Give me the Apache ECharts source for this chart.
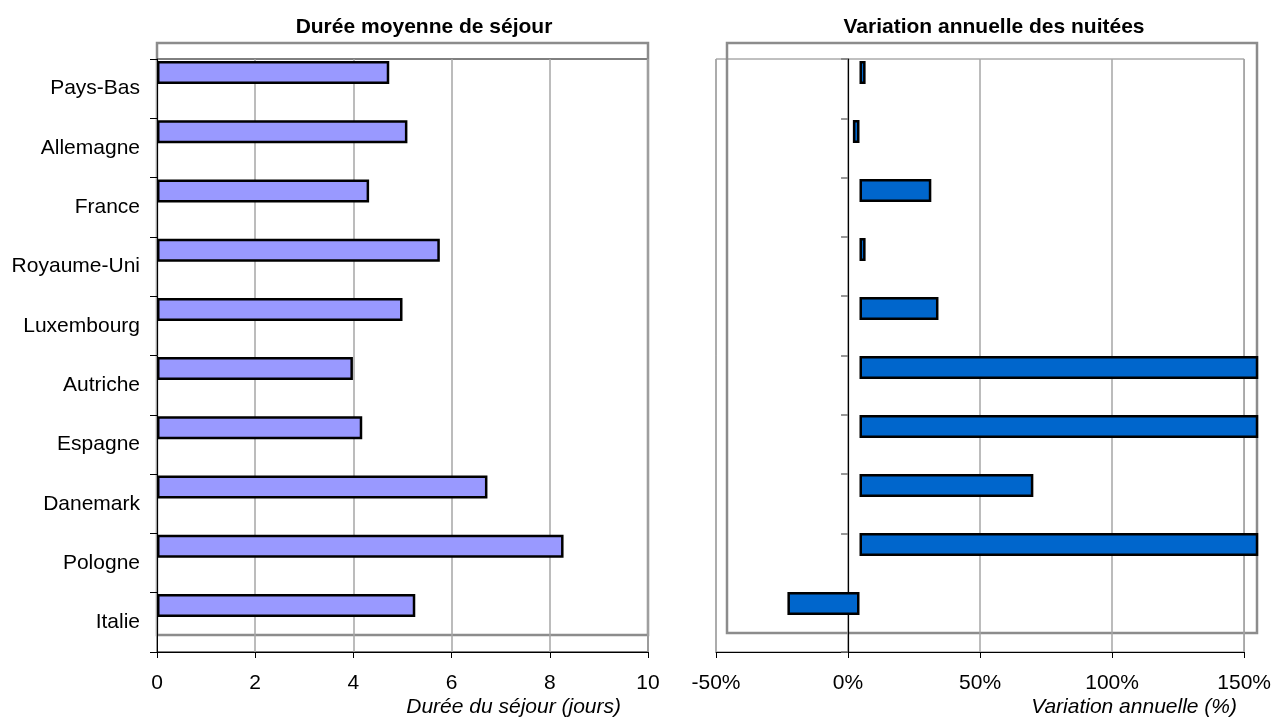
<!DOCTYPE html>
<html>
<head>
<meta charset="utf-8">
<title>Durée de séjour et variation des nuitées</title>
<script src="https://cdn.jsdelivr.net/npm/echarts@6/dist/echarts.min.js"></script>
<style>
  html, body { margin: 0; padding: 0; background: #fff; }
  #chart { width: 1274px; height: 723px; }
</style>
</head>
<body>
<div id="chart"></div>
<script>
// données
var pays = ['Pays-Bas', 'Allemagne', 'France', 'Royaume-Uni', 'Luxembourg', 'Autriche', 'Espagne', 'Danemark', 'Pologne', 'Italie'];
var dureeSejour = [4.73, 5.10, 4.32, 5.76, 5.00, 3.99, 4.18, 6.73, 8.28, 5.26];
var variationNuitees = [2.3, -2.5, 27.1, 2.3, 29.8, 160, 160, 65.6, 160, -27.2];
// bornes des axes : min, max, pas
var axeDuree = [0, 10, 2];
var axeVariation = [-50, 150, 50];

var police = "'Liberation Sans', Arial, sans-serif";
var gris = '#8c8c8c';

var chartDom = document.getElementById('chart');
var myChart = echarts.init(chartDom);

var option = {
  backgroundColor: '#fff',
  animation: false,
  textStyle: { fontFamily: police },
  title: [
    {
      text: 'Durée moyenne de séjour',
      left: 419, top: 12, textAlign: 'center',
      textStyle: { fontFamily: police, fontSize: 21, fontWeight: 'bold', color: '#000' }
    },
    {
      text: 'Variation annuelle des nuitées',
      left: 989, top: 12, textAlign: 'center',
      textStyle: { fontFamily: police, fontSize: 21, fontWeight: 'bold', color: '#000' }
    }
  ],
  grid: [
    // axes de gauche
    { left: 157, top: 59, width: 491, height: 593, show: true, borderColor: '#000', borderWidth: 1 },
    // cadre des barres de gauche
    { left: 157, top: 43, width: 491, height: 592, show: true, borderColor: gris, borderWidth: 2.5 },
    // axes de droite
    { left: 716, top: 59, width: 529, height: 593, show: true, borderColor: '#808080', borderWidth: 1 },
    // cadre des barres de droite
    { left: 727, top: 43, width: 530, height: 590, show: true, borderColor: gris, borderWidth: 2.5 }
  ],
  xAxis: [
    {
      gridIndex: 0, type: 'value', min: axeDuree[0], max: axeDuree[1], interval: axeDuree[2],
      axisLine: { show: true, lineStyle: { color: '#000', width: 1 } },
      axisTick: { show: true, length: 6, lineStyle: { color: '#000' } },
      axisLabel: { fontSize: 21, color: '#000', margin: 21, fontFamily: police },
      splitLine: { show: true, lineStyle: { color: '#a6a6a6', width: 1.5 } }
    },
    { gridIndex: 1, type: 'value', min: axeDuree[0], max: axeDuree[1], show: false, splitLine: { show: false } },
    {
      gridIndex: 2, type: 'value', min: axeVariation[0], max: axeVariation[1], interval: axeVariation[2],
      axisLine: { show: true, onZero: false, lineStyle: { color: '#000', width: 1 } },
      axisTick: { show: true, length: 6, lineStyle: { color: '#000' } },
      axisLabel: { fontSize: 21, color: '#000', margin: 21, fontFamily: police, formatter: '{value}%' },
      splitLine: { show: true, lineStyle: { color: '#a6a6a6', width: 1.5 } }
    },
    { gridIndex: 3, type: 'value', min: axeVariation[0], max: axeVariation[1], show: false, splitLine: { show: false } }
  ],
  yAxis: [
    {
      gridIndex: 0, type: 'category', data: pays, inverse: true,
      axisLine: { show: true, lineStyle: { color: '#000', width: 1 } },
      axisTick: { show: true, length: 7, lineStyle: { color: '#000' } },
      axisLabel: { fontSize: 21, color: '#000', margin: 17, fontFamily: police }
    },
    { gridIndex: 1, type: 'category', data: pays, inverse: true, show: false },
    {
      gridIndex: 2, type: 'category', data: pays, inverse: true,
      axisLine: { show: true, onZero: true, lineStyle: { color: '#000', width: 1.2 } },
      axisTick: { show: true, length: 7, lineStyle: { color: '#777', width: 1.5 } },
      axisLabel: { show: false }
    },
    { gridIndex: 3, type: 'category', data: pays, inverse: true, show: false }
  ],
  graphic: [
    {
      type: 'text', right: 1274 - 621, top: 697,
      style: { text: 'Durée du séjour (jours)', font: 'italic 21px ' + police, fill: '#000' }
    },
    {
      type: 'text', right: 1274 - 1237, top: 697,
      style: { text: 'Variation annuelle (%)', font: 'italic 21px ' + police, fill: '#000' }
    }
  ],
  series: [
    {
      name: 'Durée moyenne de séjour', type: 'bar',
      xAxisIndex: 1, yAxisIndex: 1,
      data: dureeSejour, barWidth: 23,
      itemStyle: { color: '#9999ff', borderColor: '#000', borderWidth: 2.5 }
    },
    {
      name: 'Variation annuelle des nuitées', type: 'bar',
      xAxisIndex: 3, yAxisIndex: 3,
      data: variationNuitees, barWidth: 23,
      itemStyle: { color: '#0066cc', borderColor: '#000', borderWidth: 2.5 }
    }
  ]
};

option && myChart.setOption(option);
</script>
</body>
</html>
